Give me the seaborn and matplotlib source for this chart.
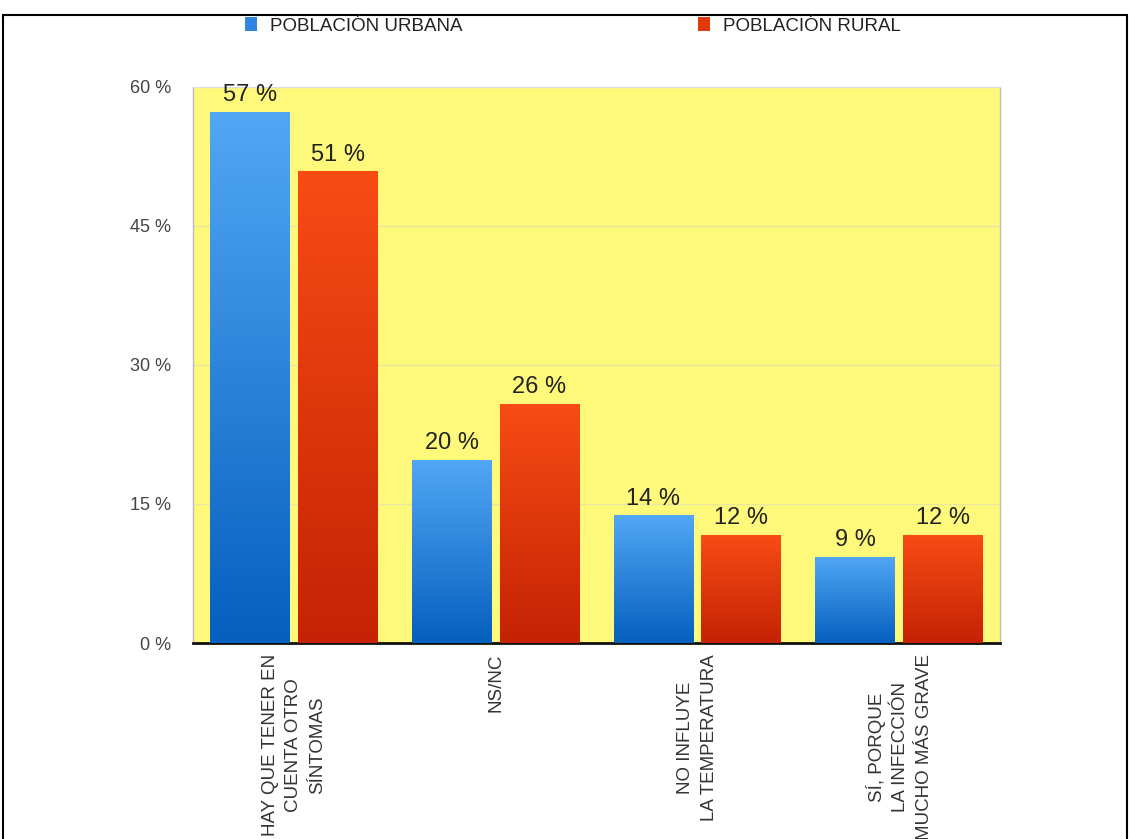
import matplotlib
matplotlib.use("Agg")
import matplotlib.pyplot as plt
from matplotlib.colors import LinearSegmentedColormap
from matplotlib.patches import Patch, Rectangle
import numpy as np
import pandas as pd
import seaborn as sns

# Datos
categorias = [
    "HAY QUE TENER EN\nCUENTA OTRO\nSÍNTOMAS",
    "NS/NC",
    "NO INFLUYE\nLA TEMPERATURA",
    "SÍ, PORQUE\nLA INFECCIÓN\nMUCHO MÁS GRAVE",
]
series = ["POBLACIÓN URBANA", "POBLACIÓN RURAL"]
urbana = [57.3, 19.8, 13.8, 9.3]
rural = [50.9, 25.8, 11.7, 11.7]
y_ticks = [0, 15, 30, 45, 60]

# colores (arriba, abajo) del degradado de cada serie
colores = {
    "POBLACIÓN URBANA": ("#52A7F5", "#055FBE"),
    "POBLACIÓN RURAL": ("#F84C14", "#C52205"),
}
medios = {"POBLACIÓN URBANA": "#2F86E0", "POBLACIÓN RURAL": "#E03A0C"}

df = pd.DataFrame({
    "categoria": categorias * 2,
    "poblacion": [series[0]] * 4 + [series[1]] * 4,
    "valor": urbana + rural,
})

sns.set_style("white")
plt.rcParams["font.family"] = ["Liberation Sans", "DejaVu Sans"]

fig = plt.figure(figsize=(11.3, 8.39), dpi=100)
ax = fig.add_axes([193 / 1130, 1 - 643 / 839, 807 / 1130, 556 / 839])
ax.set_facecolor("#FEF97A")

sns.barplot(ax=ax, data=df, x="categoria", y="valor", hue="poblacion",
            palette=medios, width=0.87, gap=0.09, linewidth=0, legend=False,
            zorder=3)

# Degradado vertical dentro de cada barra
for cont, serie in zip(ax.containers, series):
    top_c, bot_c = colores[serie]
    cmap = LinearSegmentedColormap.from_list(serie, [bot_c, top_c])
    grad = np.linspace(0, 1, 256).reshape(-1, 1)
    for bar in cont:
        x0, y0 = bar.get_x(), bar.get_y()
        w, h = bar.get_width(), bar.get_height()
        im = ax.imshow(grad, extent=[x0, x0 + w, y0, y0 + h], origin="lower",
                       aspect="auto", cmap=cmap, zorder=4)
        im.set_clip_path(bar)
    ax.bar_label(cont, fmt="{:.0f} %", padding=4, fontsize=17, color="#222222")

ax.set_ylim(0, 60)
ax.set_xlim(-0.5, 3.5)
ax.set_aspect("auto")

ax.set_yticks(y_ticks)
ax.set_yticklabels([f"{t} %" for t in y_ticks], fontsize=13, color="#444444")
ax.tick_params(axis="y", length=0, pad=16)
ax.tick_params(axis="x", length=0, pad=8)
ax.set_xticks(range(len(categorias)))
ax.set_xticklabels(categorias, rotation=90, fontsize=13.5, color="#333333",
                   va="top", ha="center", multialignment="center",
                   linespacing=1.5)
ax.set_xlabel("")
ax.set_ylabel("")

ax.yaxis.grid(True, color="#E8E6A0", linewidth=1, zorder=0)
ax.set_axisbelow(True)
for lado in ["left", "right"]:
    ax.spines[lado].set_color("#BBBBBB")
    ax.spines[lado].set_linewidth(1)
ax.spines["top"].set_color("#DDDDDD")
ax.spines["bottom"].set_color("#111111")
ax.spines["bottom"].set_linewidth(2)

# Leyenda
handles = [Patch(facecolor=medios[s], edgecolor="none") for s in series]
fig.legend(handles, series, loc="center", bbox_to_anchor=(573 / 1130, 1 - 26 / 839),
           ncol=2, frameon=False, fontsize=13.5, handlelength=0.65, handleheight=0.75,
           handletextpad=0.7, columnspacing=12.55, labelcolor="#222222")

# Marco de la figura
fig.patches.append(Rectangle((3 / 1130, -0.02), 1124 / 1130, 1.02 - 15 / 839,
                             transform=fig.transFigure, fill=False,
                             edgecolor="black", linewidth=1.5))

fig.savefig("out.png", dpi=100)
